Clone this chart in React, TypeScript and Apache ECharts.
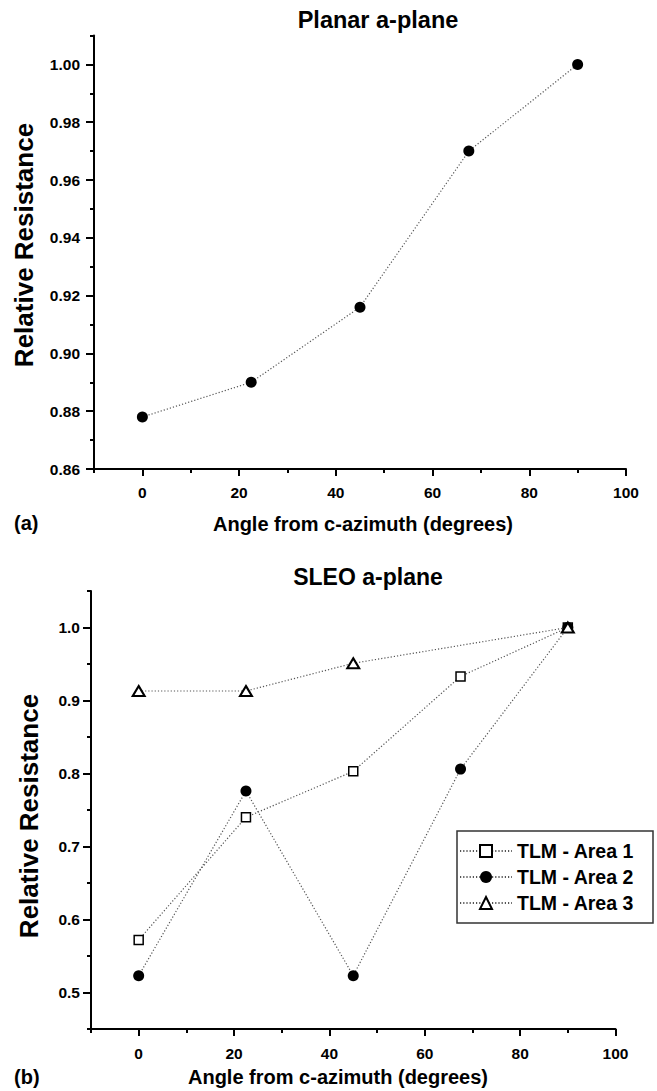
import React, { useEffect, useRef } from "react";
import * as echarts from "echarts";

const angles = [0, 22.5, 45, 67.5, 90];
const planarValues = [0.878, 0.89, 0.916, 0.97, 1.0];

const area1Values = [0.572, 0.74, 0.803, 0.933, 1.0];
const area2Values = [0.523, 0.776, 0.523, 0.806, 1.0];
const area3Angles = [0, 22.5, 45, 90];
const area3Values = [0.913, 0.913, 0.951, 1.0];

const seriesNames = ["TLM - Area 1", "TLM - Area 2", "TLM - Area 3"];
const titles = ["Planar a-plane", "SLEO a-plane"];
const panelLabels = ["(a)", "(b)"];
const xTitle = "Angle from c-azimuth (degrees)";
const yTitle = "Relative Resistance";

const xTickLabels = [0, 20, 40, 60, 80, 100];
const yTickLabelsTop = [0.86, 0.88, 0.9, 0.92, 0.94, 0.96, 0.98, 1.0];
const yTickLabelsBottom = [0.5, 0.6, 0.7, 0.8, 0.9, 1.0];

const FONT = '"Liberation Sans", Arial, Helvetica, sans-serif';
const LABEL_SIZE = 15.5;

const pair = (xs: number[], ys: number[]) => xs.map((x, i) => [x, ys[i]]);

const lineStyle = { color: "#555", width: 1.2, type: [1.2, 2] as any };
const axisLineStyle = { color: "#000", width: 2 };
const labelStyle = {
  color: "#000",
  fontSize: LABEL_SIZE,
  fontWeight: "bold",
  fontFamily: FONT,
};

// data x axis: all ticks (minor length), no labels
function xDataAxis(gridIndex: number) {
  return {
    type: "value",
    gridIndex,
    position: "bottom",
    min: -10,
    max: 100,
    interval: 10,
    axisLine: { onZero: false, lineStyle: axisLineStyle },
    axisTick: { show: true, length: 4, lineStyle: { color: "#000", width: 2 } },
    splitLine: { show: false },
    axisLabel: { show: false },
  };
}
// overlay x axis: major ticks and labels
function xMajorAxis(gridIndex: number, margin: number) {
  return {
    type: "value",
    gridIndex,
    position: "bottom",
    min: -10,
    max: 100,
    axisLine: { show: false, onZero: false },
    axisTick: {
      show: true,
      length: 7,
      customValues: xTickLabels,
      lineStyle: { color: "#000", width: 2 },
    },
    splitLine: { show: false },
    axisLabel: {
      ...labelStyle,
      margin,
      customValues: xTickLabels,
      formatter: (v: number) => String(Math.round(v)),
    },
  };
}
function yDataAxis(gridIndex: number, min: number, max: number, interval: number) {
  return {
    type: "value",
    gridIndex,
    position: "left",
    min,
    max,
    interval,
    axisLine: { show: true, onZero: false, lineStyle: axisLineStyle },
    axisTick: { show: true, length: 4, lineStyle: { color: "#000", width: 2 } },
    splitLine: { show: false },
    axisLabel: { show: false },
  };
}
function yMajorAxis(
  gridIndex: number,
  min: number,
  max: number,
  ticks: number[],
  digits: number,
  margin: number
) {
  return {
    type: "value",
    gridIndex,
    position: "left",
    min,
    max,
    axisLine: { show: false, onZero: false },
    axisTick: {
      show: true,
      length: 8,
      customValues: ticks,
      lineStyle: { color: "#000", width: 2 },
    },
    splitLine: { show: false },
    axisLabel: {
      ...labelStyle,
      margin,
      customValues: ticks,
      formatter: (v: number) => v.toFixed(digits),
    },
  };
}

export default function App() {
  const ref = useRef<HTMLDivElement>(null);
  useEffect(() => {
    document.body.style.margin = "0";
    const chart = echarts.init(ref.current!, null, { renderer: "svg" });
    const txt = (
      text: string,
      x: number,
      y: number,
      size: number,
      align = "center",
      rotation = 0
    ) => ({
      type: "text",
      x,
      y,
      rotation,
      style: {
        text,
        fill: "#000",
        fontSize: size,
        fontWeight: "bold",
        fontFamily: FONT,
        align,
        verticalAlign: "middle",
      },
    });
    chart.setOption({
      animation: false,
      backgroundColor: "#fff",
      grid: [
        { left: 94, top: 35.5, right: 31, height: 433.5 },
        { left: 91, top: 591, right: 41.5, height: 438 },
      ],
      xAxis: [xDataAxis(0), xDataAxis(1), xMajorAxis(0, 15), xMajorAxis(1, 16)],
      yAxis: [
        yDataAxis(0, 0.86, 1.01, 0.01),
        yDataAxis(1, 0.45, 1.05, 0.05),
        yMajorAxis(0, 0.86, 1.01, yTickLabelsTop, 2, 14),
        yMajorAxis(1, 0.45, 1.05, yTickLabelsBottom, 1, 11),
      ],
      legend: {
        orient: "vertical",
        left: 459,
        top: 841,
        padding: 0,
        itemWidth: 52,
        itemHeight: 15,
        itemGap: 6,
        data: seriesNames,
        textStyle: {
          color: "#000",
          fontSize: 19.5,
          fontWeight: "bold",
          fontFamily: FONT,
          lineHeight: 19,
        },
      },
      series: [
        {
          type: "line",
          name: "Planar",
          xAxisIndex: 0,
          yAxisIndex: 0,
          data: pair(angles, planarValues),
          symbol: "circle",
          symbolSize: 11,
          itemStyle: { color: "#000" },
          lineStyle,
        },
        {
          type: "line",
          name: seriesNames[0],
          xAxisIndex: 1,
          yAxisIndex: 1,
          data: pair(angles, area1Values),
          symbol: "rect",
          symbolSize: 9,
          itemStyle: { color: "#fff", borderColor: "#000", borderWidth: 1.5 },
          lineStyle,
        },
        {
          type: "line",
          name: seriesNames[1],
          xAxisIndex: 1,
          yAxisIndex: 1,
          data: pair(angles, area2Values),
          symbol: "circle",
          symbolSize: 11,
          itemStyle: { color: "#000" },
          lineStyle,
        },
        {
          type: "line",
          name: seriesNames[2],
          xAxisIndex: 1,
          yAxisIndex: 1,
          data: pair(area3Angles, area3Values),
          symbol: "triangle",
          symbolSize: [12, 10],
          itemStyle: { color: "#fff", borderColor: "#000", borderWidth: 2 },
          lineStyle,
        },
      ],
      graphic: [
        txt(titles[0], 378, 20, 23.5),
        txt(yTitle, 24, 245, 26, "center", Math.PI / 2),
        txt(xTitle, 363, 524, 20),
        txt(panelLabels[0], 14, 523, 20, "left"),
        txt(titles[1], 368, 577, 23),
        txt(yTitle, 29, 816, 26, "center", Math.PI / 2),
        txt(xTitle, 338, 1077, 20),
        txt(panelLabels[1], 14, 1077, 20, "left"),
        {
          type: "rect",
          z: -1,
          shape: { x: 457, y: 831, width: 196, height: 92 },
          style: { fill: "transparent", stroke: "#333", lineWidth: 1.5 },
        },
      ],
    });
    return () => chart.dispose();
  }, []);
  return <div ref={ref} style={{ width: 657, height: 1091 }} />;
}
